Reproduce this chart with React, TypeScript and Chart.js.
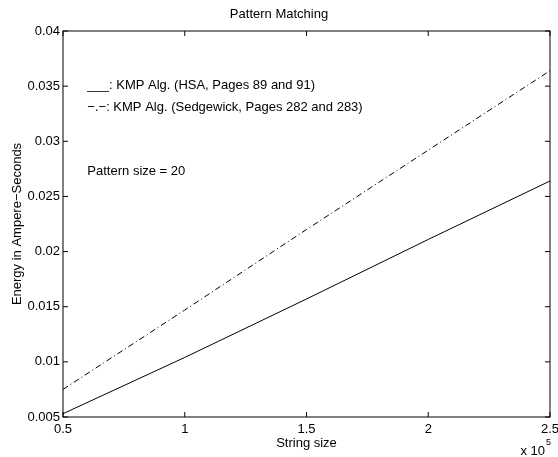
import React, { useEffect, useRef } from "react";
import { Chart, registerables } from "chart.js";

Chart.register(...registerables);

const FONT = '"Liberation Sans", Arial, Helvetica, sans-serif';

// String size in units of 10^5
const stringSizes = [0.5, 1, 1.5, 2, 2.5];
// Energy in Ampere-Seconds
const hsaEnergy = [0.0053, 0.0104, 0.0157, 0.0211, 0.0264];
const sedgewickEnergy = [0.0075, 0.0147, 0.022, 0.0292, 0.0364];

const xMin = 0.5;
const xMax = 2.5;
const xStep = 0.5;
const yMin = 0.005;
const yMax = 0.04;
const yStep = 0.005;

const titleText = "Pattern Matching";
const xTitle = "String size";
const yTitle = "Energy in Ampere\u2212Seconds";

const noteTexts = [
  "___: KMP Alg. (HSA, Pages 89 and 91)",
  "\u2212.\u2212: KMP Alg. (Sedgewick, Pages 282 and 283)",
  "Pattern size = 20",
];
const noteX = [0.6, 0.6, 0.6];
const noteY = [0.0351, 0.0331, 0.0273];

export default function App() {
  const ref = useRef<HTMLCanvasElement>(null);

  useEffect(() => {
    if (!ref.current) return;

    const overlay = {
      id: "matlabOverlay",
      afterDraw(chart: any) {
        const { ctx, chartArea: a, scales } = chart;
        const xs = scales.x;
        const ys = scales.y;
        ctx.save();
        ctx.strokeStyle = "#000";
        ctx.lineWidth = 1;
        ctx.strokeRect(a.left, a.top, a.right - a.left, a.bottom - a.top);
        ctx.beginPath();
        xs.ticks.forEach((t: any) => {
          const px = xs.getPixelForValue(t.value);
          ctx.moveTo(px, a.bottom);
          ctx.lineTo(px, a.bottom - 5);
          ctx.moveTo(px, a.top);
          ctx.lineTo(px, a.top + 5);
        });
        ys.ticks.forEach((t: any) => {
          const py = ys.getPixelForValue(t.value);
          ctx.moveTo(a.left, py);
          ctx.lineTo(a.left + 5, py);
          ctx.moveTo(a.right, py);
          ctx.lineTo(a.right - 5, py);
        });
        ctx.stroke();

        ctx.fillStyle = "#000";
        ctx.font = `13px ${FONT}`;
        ctx.textAlign = "left";
        ctx.textBaseline = "middle";
        noteTexts.forEach((s, i) => {
          ctx.fillText(s, xs.getPixelForValue(noteX[i]), ys.getPixelForValue(noteY[i]));
        });

        // x 10^5 multiplier
        ctx.textBaseline = "alphabetic";
        ctx.textAlign = "right";
        ctx.font = `13px ${FONT}`;
        ctx.fillText("x 10", a.right - 5, a.bottom + 38);
        ctx.textAlign = "left";
        ctx.font = `9px ${FONT}`;
        ctx.fillText("5", a.right - 4, a.bottom + 28);
        ctx.restore();
      },
    };

    const chart = new Chart(ref.current, {
      type: "line",
      data: {
        datasets: [
          {
            label: "KMP Alg. (HSA, Pages 89 and 91)",
            data: stringSizes.map((x, i) => ({ x, y: hsaEnergy[i] })),
            borderColor: "#000",
            borderWidth: 1,
            pointRadius: 0,
            tension: 0,
            fill: false,
          },
          {
            label: "KMP Alg. (Sedgewick, Pages 282 and 283)",
            data: stringSizes.map((x, i) => ({ x, y: sedgewickEnergy[i] })),
            borderColor: "#000",
            borderWidth: 1,
            borderDash: [6, 3, 1, 3],
            pointRadius: 0,
            tension: 0,
            fill: false,
          },
        ],
      },
      plugins: [overlay],
      options: {
        responsive: false,
        animation: false,
        layout: { padding: 0 },
        plugins: {
          legend: { display: false },
          tooltip: { enabled: false },
          title: {
            display: true,
            text: titleText,
            color: "#000",
            font: { family: FONT, size: 13, weight: "normal", lineHeight: 1.2 },
            padding: { top: 7, bottom: 8.4 },
          },
        },
        scales: {
          x: {
            type: "linear",
            min: xMin,
            max: xMax,
            grid: { display: false, drawTicks: false },
            border: { display: false },
            ticks: {
              stepSize: xStep,
              color: "#000",
              padding: 5,
              maxRotation: 0,
              font: { family: FONT, size: 13 },
              callback: (v: any) => String(parseFloat(Number(v).toFixed(2))),
            },
            title: {
              display: true,
              text: xTitle,
              color: "#000",
              font: { family: FONT, size: 13, lineHeight: 1.2 },
              padding: { top: 0, bottom: 6 },
            },
            afterFit: (s: any) => {
              s.height = 40;
              s.paddingLeft = 0;
              s.paddingRight = 8;
            },
          },
          y: {
            type: "linear",
            min: yMin,
            max: yMax,
            grid: { display: false, drawTicks: false },
            border: { display: false },
            ticks: {
              stepSize: yStep,
              color: "#000",
              padding: 3,
              font: { family: FONT, size: 13 },
              callback: (v: any) => String(parseFloat(Number(v).toFixed(3))),
            },
            title: {
              display: true,
              text: yTitle,
              color: "#000",
              font: { family: FONT, size: 13, lineHeight: 1.2 },
              padding: { top: 10, bottom: 0 },
            },
            afterFit: (s: any) => {
              s.width = 63;
              s.paddingTop = 0;
              s.paddingBottom = 0;
            },
          },
        },
      },
    } as any);

    return () => chart.destroy();
  }, []);

  return (
    <div style={{ position: "fixed", left: 0, top: 0, width: 558, height: 457, background: "#fff" }}>
      <canvas ref={ref} width={558} height={457} style={{ display: "block" }} />
    </div>
  );
}
